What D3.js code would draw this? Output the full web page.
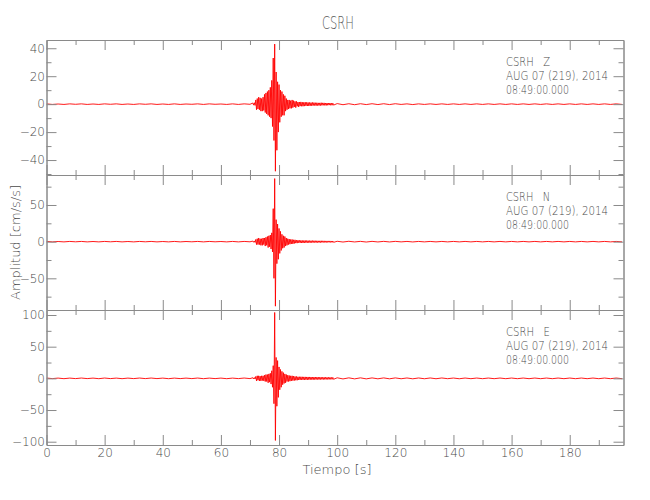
<!DOCTYPE html>
<html>
<head>
<meta charset="utf-8">
<script src="https://cdn.jsdelivr.net/npm/d3@7"></script>
<style>
  html, body { margin: 0; padding: 0; background: #fff; }
  svg { display: block; }
  text { font-family: "DejaVu Sans", sans-serif; font-stretch: condensed; font-weight: 200; fill: #4a4a4a; }
</style>
</head>
<body>
<svg id="chart" width="650" height="500"></svg>
<script>
// ---------------- data ----------------
const stationName = "CSRH";
const components = ["Z", "N", "E"];
const dateLine = "AUG 07 (219), 2014";
const timeLine = "08:49:00.000";
const xLabel = "Tiempo [s]";
const yLabel = "Amplitud [cm/s/s]";

const xDomain = [0, 198.5];
const xMajorTicks = [0, 20, 40, 60, 80, 100, 120, 140, 160, 180];
const xMinorTicks = [10, 30, 50, 70, 90, 110, 130, 150, 170, 190];

const yDomains = [[-50.7, 45.9], [-93.2, 90.9], [-105.2, 107.9]];
const yMajorTicks = [[-40, -20, 0, 20, 40], [-50, 0, 50], [-100, -50, 0, 50, 100]];
const yMinorTicks = [[-50, -30, -10, 10, 30], [-75, -25, 25, 75], [-75, -25, 25, 75]];

// sample spacing (s) of each stored segment and start times
const preStep = 2, preStart = 0;
const eventStep = 0.25, eventStart = 71;
const postStep = 2, postStart = 100;

// Z component (cm/s/s)
const zPre = [0.2,-0.2,0.1,-0.2,0.2,-0.1,0.2,-0.2,0.1,-0.2,0.2,-0.1,0.2,-0.2,0.1,-0.2,0.2,-0.1,
              0.2,-0.2,0.1,-0.2,0.2,-0.2,0.1,-0.1,0.2,-0.2,0.2,-0.1,0.1,-0.2,0.2,-0.2,0.2,-0.1];
const zEvent = [0.8,-0.7,1.0,-0.9, 3,-4,4,-3.5, 5,-4,4.5,-5, 4,-5,5,-4.5,
                7,-6,8,-7, 9,-8,10,-9, 12,-10,17,-16, 33,-26,43,-48,
                23,-33,16,-20, 14,-13,10,-9, 9,-8,7,-8, 6,-5,4,-4,
                3,-3.5,3,-3, 2.5,-3,3,-2.5, 2.5,-2,2,-2.5, 2,-1.5,1.5,-2,
                1.5,-1.4,1.6,-1.5, 1.4,-1.5,1.3,-1.4, 1.4,-1.2,1.3,-1.3, 1.2,-1.3,1.2,-1.1,
                1.1,-1.2,1.2,-1.0, 1.1,-1.0,1.0,-1.1, 1.0,-1.0,0.9,-1.0, 0.9,-1.0,1.0,-0.9,
                0.9,-0.8,0.9,-0.9, 0.8,-0.9,0.8,-0.8, 0.8,-0.7,0.8,-0.8, 0.7,-0.8,0.7,-0.7];
const zPost = [0.4,-0.4,0.3,-0.4,0.3,-0.3,0.3,-0.3,0.3,-0.3,0.3,-0.2,0.2,-0.3,0.2,-0.2,0.2,-0.2,
               0.2,-0.2,0.2,-0.2,0.2,-0.2,0.2,-0.2,0.2,-0.2,0.2,-0.2,0.2,-0.2,0.2,-0.2,0.2,-0.2,
               0.2,-0.2,0.2,-0.2,0.2,-0.2,0.2,-0.2,0.2,-0.2,0.2,-0.2,0.2,-0.2];

// N component
const nPre = [0.3,-0.3,0.2,-0.3,0.3,-0.2,0.3,-0.3,0.2,-0.3,0.3,-0.2,0.3,-0.3,0.2,-0.3,0.3,-0.2,
              0.3,-0.3,0.2,-0.3,0.3,-0.3,0.2,-0.2,0.3,-0.3,0.3,-0.2,0.2,-0.3,0.3,-0.3,0.3,-0.2];
const nEvent = [0.8,-0.8,1,-1, 3,-4,4,-4, 5,-4,4,-5, 4,-5,5,-4,
                5,-6,6,-5, 7,-8,8,-7, 9,-10,12,-14, 45,-50,86,-88,
                30,-30,24,-24, 18,-16,14,-12, 10,-9,8,-8, 7,-6,5,-5,
                4,-4,3.5,-3.5, 3,-3,3,-3, 2.5,-2.5,2.5,-2, 2,-2,2,-1.5,
                1.8,-1.6,1.7,-1.8, 1.6,-1.7,1.5,-1.6, 1.6,-1.5,1.5,-1.4, 1.4,-1.5,1.4,-1.3,
                1.3,-1.4,1.4,-1.2, 1.3,-1.2,1.2,-1.3, 1.2,-1.2,1.1,-1.2, 1.1,-1.2,1.2,-1.1,
                1.1,-1.0,1.1,-1.1, 1.0,-1.1,1.0,-1.0, 1.0,-0.9,1.0,-1.0, 0.9,-1.0,0.9,-0.9];
const nPost = [0.5,-0.5,0.5,-0.4,0.4,-0.5,0.4,-0.4,0.4,-0.4,0.4,-0.3,0.3,-0.4,0.3,-0.3,0.3,-0.3,
               0.3,-0.3,0.3,-0.3,0.3,-0.3,0.3,-0.3,0.3,-0.3,0.3,-0.3,0.3,-0.3,0.3,-0.3,0.3,-0.3,
               0.3,-0.3,0.3,-0.3,0.3,-0.3,0.3,-0.3,0.3,-0.3,0.3,-0.3,0.3,-0.3];

// E component
const ePre = [0.5,-0.4,0.4,-0.5,0.4,-0.4,0.5,-0.4,0.4,-0.5,0.5,-0.4,0.4,-0.5,0.4,-0.4,0.5,-0.4,
              0.5,-0.4,0.4,-0.5,0.4,-0.4,0.4,-0.4,0.5,-0.5,0.4,-0.4,0.4,-0.5,0.4,-0.4,0.5,-0.4];
const eEvent = [1,-1,1.2,-1, 3,-4,4,-3, 4,-4,3.5,-4, 4,-3.5,4,-4,
                5,-5,6,-5, 6,-7,7,-6, 8,-9,12,-14, 20,-40,104,-98,
                33,-44,28,-30, 18,-18,14,-14, 11,-10,9,-8, 7,-7,6,-5,
                5,-5,4.5,-4.5, 4,-4,4,-3.5, 3.5,-3.5,3,-3, 3,-3,2.5,-2.5,
                2.5,-2.4,2.5,-2.3, 2.4,-2.3,2.3,-2.4, 2.3,-2.2,2.2,-2.3, 2.2,-2.1,2.2,-2.0,
                2.1,-2.0,2.0,-2.1, 2.0,-1.9,2.0,-1.9, 1.9,-1.8,1.9,-1.9, 1.8,-1.8,1.8,-1.7,
                1.7,-1.8,1.7,-1.7, 1.7,-1.6,1.6,-1.7, 1.6,-1.6,1.6,-1.5, 1.5,-1.6,1.5,-1.5];
const ePost = [0.9,-0.9,0.8,-0.8,0.8,-0.8,0.7,-0.7,0.7,-0.7,0.7,-0.6,0.6,-0.7,0.6,-0.6,0.6,-0.6,
               0.6,-0.5,0.5,-0.6,0.5,-0.5,0.5,-0.5,0.5,-0.5,0.5,-0.5,0.5,-0.5,0.5,-0.5,0.5,-0.5,
               0.5,-0.5,0.5,-0.5,0.5,-0.5,0.5,-0.5,0.5,-0.5,0.5,-0.5,0.5,-0.5];

const traces = [[zPre, zEvent, zPost], [nPre, nEvent, nPost], [ePre, eEvent, ePost]];

// ---------------- layout ----------------
const left = 46.5, right = 623.5;
const panelTop = 40, panelH = 135;
const axisColor = "#8a8a8a";
const textColor = "#4a4a4a";
const majorLen = 10, minorLen = 5;

const svg = d3.select("#chart");
const x = d3.scaleLinear().domain(xDomain).range([left, right]);

function buildTrace(seg) {
  const pts = [];
  seg[0].forEach((v, i) => pts.push([preStart + i * preStep, v]));
  seg[1].forEach((v, i) => pts.push([eventStart + i * eventStep, v]));
  seg[2].forEach((v, i) => pts.push([postStart + i * postStep, v]));
  return pts;
}

function styleAxis(g) {
  g.selectAll("path.domain").attr("stroke", axisColor).attr("stroke-width", 1);
  g.selectAll(".tick line").attr("stroke", axisColor).attr("stroke-width", 1);
  g.selectAll(".tick text").attr("fill", textColor)
    .style("font-family", '"DejaVu Sans", sans-serif')
    .style("font-stretch", "condensed")
    .style("font-weight", "200")
    .style("font-size", "12px");
}

components.forEach((comp, p) => {
  const top = panelTop + p * panelH;
  const bottom = top + panelH;
  const y = d3.scaleLinear().domain(yDomains[p]).range([bottom, top]);
  const isLast = p === components.length - 1;

  svg.append("clipPath").attr("id", "clip" + p)
    .append("rect").attr("x", left).attr("y", top).attr("width", right - left).attr("height", panelH);

  const line = d3.line().x(d => x(d[0])).y(d => y(d[1]));
  svg.append("path")
    .datum(buildTrace(traces[p]))
    .attr("clip-path", `url(#clip${p})`)
    .attr("fill", "none")
    .attr("stroke", "#ff0000")
    .attr("stroke-width", 0.9)
    .attr("d", line);

  const xb = svg.append("g").attr("transform", `translate(0,${bottom})`)
    .call(d3.axisBottom(x).tickValues(xMajorTicks).tickSizeInner(-majorLen).tickSizeOuter(0)
      .tickPadding(1).tickFormat(isLast ? d3.format("d") : () => ""));
  styleAxis(xb);
  xb.selectAll(".tick text").attr("y", 1).attr("dy", "0.95em");
  const xbm = svg.append("g").attr("transform", `translate(0,${bottom})`)
    .call(d3.axisBottom(x).tickValues(xMinorTicks).tickSizeInner(-minorLen).tickSizeOuter(0).tickFormat(() => ""));
  styleAxis(xbm);

  const xt = svg.append("g").attr("transform", `translate(0,${top})`)
    .call(d3.axisTop(x).tickValues(xMajorTicks).tickSizeInner(-majorLen).tickSizeOuter(0).tickFormat(() => ""));
  styleAxis(xt);
  const xtm = svg.append("g").attr("transform", `translate(0,${top})`)
    .call(d3.axisTop(x).tickValues(xMinorTicks).tickSizeInner(-minorLen).tickSizeOuter(0).tickFormat(() => ""));
  styleAxis(xtm);

  const yl = svg.append("g").attr("transform", `translate(${left},0)`)
    .call(d3.axisLeft(y).tickValues(yMajorTicks[p]).tickSizeInner(-majorLen).tickSizeOuter(0)
      .tickPadding(1.5).tickFormat(d3.format("d")));
  styleAxis(yl);
  const ylm = svg.append("g").attr("transform", `translate(${left},0)`)
    .call(d3.axisLeft(y).tickValues(yMinorTicks[p]).tickSizeInner(-minorLen).tickSizeOuter(0).tickFormat(() => ""));
  styleAxis(ylm);

  const yr = svg.append("g").attr("transform", `translate(${right},0)`)
    .call(d3.axisRight(y).tickValues(yMajorTicks[p]).tickSizeInner(-majorLen).tickSizeOuter(0).tickFormat(() => ""));
  styleAxis(yr);
  const yrm = svg.append("g").attr("transform", `translate(${right},0)`)
    .call(d3.axisRight(y).tickValues(yMinorTicks[p]).tickSizeInner(-minorLen).tickSizeOuter(0).tickFormat(() => ""));
  styleAxis(yrm);

  // annotation
  const ann = svg.append("text").attr("x", 506).attr("y", top + 26)
    .style("font-size", "12.5px").attr("xml:space", "preserve");
  ann.append("tspan").attr("x", 506).attr("dy", 0).attr("textLength", 44)
    .attr("lengthAdjust", "spacingAndGlyphs").text(`${stationName}   ${comp}`);
  ann.append("tspan").attr("x", 506).attr("dy", 14).attr("textLength", 102)
    .attr("lengthAdjust", "spacingAndGlyphs").text(dateLine);
  ann.append("tspan").attr("x", 506).attr("dy", 14).attr("textLength", 63)
    .attr("lengthAdjust", "spacingAndGlyphs").text(timeLine);
});

// title
svg.append("text").attr("x", 338).attr("y", 29).attr("text-anchor", "middle")
  .attr("textLength", 32).attr("lengthAdjust", "spacingAndGlyphs")
  .style("font-size", "17px").style("fill", "#5a5a5a").text(stationName);

// x label
svg.append("text").attr("x", 337).attr("y", 474).attr("text-anchor", "middle")
  .style("font-size", "13px").attr("xml:space", "preserve").text(xLabel);

// y label
svg.append("text").attr("transform", `translate(20,${panelTop + 1.5 * panelH}) rotate(-90)`)
  .attr("text-anchor", "middle").style("font-size", "13px").text(yLabel);
</script>
</body>
</html>
